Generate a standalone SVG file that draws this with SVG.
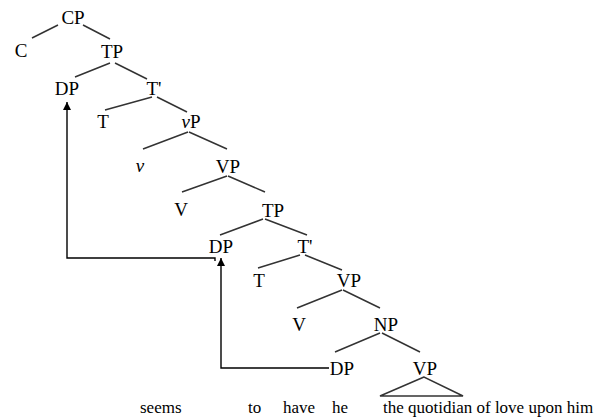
<svg xmlns="http://www.w3.org/2000/svg" width="606" height="418" viewBox="0 0 606 418">
<defs>
<style>
.lbl{font-family:"Liberation Serif","Times New Roman",serif;font-size:19px;fill:#000;text-anchor:middle}
.leaf{font-family:"Liberation Serif","Times New Roman",serif;font-size:17px;fill:#000}
.br{stroke:#333;stroke-width:1.5;fill:none}
.mv{stroke:#000;stroke-width:1.4;fill:none}
</style>
<marker id="ah" viewBox="0 0 10 10" refX="10" refY="5" markerWidth="9" markerHeight="8" markerUnits="userSpaceOnUse" orient="auto">
<path d="M0,0 L10,5 L0,10 Z" fill="#000"/>
</marker>
</defs>
<rect width="606" height="418" fill="#fff"/>
<g id="connectors">
<path class="br" d="M58,25 L32,38 M83,25 L110,39"/>
<path class="br" d="M110,63 L75,77 M115,63 L147,79"/>
<path class="br" d="M152,97 L105,110 M157,97 L187,112"/>
<path class="br" d="M188,132 L143,149 M189,132 L227,149"/>
<path class="br" d="M227,176 L182,192 M228,176 L265,192"/>
<path class="br" d="M263,219 L220,235 M265,219 L307,235"/>
<path class="br" d="M300,255 L258,268 M305,255 L342,270"/>
<path class="br" d="M342,290 L297,308 M343,290 L380,308"/>
<path class="br" d="M380,333 L335,352 M382,333 L420,352"/>
<path class="br" d="M424,377 L380,396 L463,396 Z"/>
<path class="mv" d="M215,261 L215,258 L67,258 L67,102" marker-end="url(#ah)"/>
<path class="mv" d="M329,368 L221,368 L221,258" marker-end="url(#ah)"/>
</g>
<g id="n-CP"><text class="lbl" x="73" y="24">CP</text></g>
<g id="n-C"><text class="lbl" x="21" y="57">C</text></g>
<g id="n-TP1"><text class="lbl" x="112" y="58">TP</text></g>
<g id="n-DP1"><text class="lbl" x="67" y="95">DP</text></g>
<g id="n-Tbar1"><text class="lbl" x="154" y="95">T'</text></g>
<g id="n-T1"><text class="lbl" x="103" y="128">T</text></g>
<g id="n-vP"><text class="lbl" x="191" y="128"><tspan font-style="italic">v</tspan>P</text></g>
<g id="n-v"><text class="lbl" x="140" y="172" font-style="italic">v</text></g>
<g id="n-VP1"><text class="lbl" x="228" y="173">VP</text></g>
<g id="n-V1"><text class="lbl" x="181" y="216">V</text></g>
<g id="n-TP2"><text class="lbl" x="273" y="217">TP</text></g>
<g id="n-DP2"><text class="lbl" x="221" y="253">DP</text></g>
<g id="n-Tbar2"><text class="lbl" x="305" y="253">T'</text></g>
<g id="n-T2"><text class="lbl" x="259" y="287">T</text></g>
<g id="n-VP2"><text class="lbl" x="349" y="287">VP</text></g>
<g id="n-V2"><text class="lbl" x="299" y="331">V</text></g>
<g id="n-NP"><text class="lbl" x="386" y="331">NP</text></g>
<g id="n-DP3"><text class="lbl" x="342" y="375">DP</text></g>
<g id="n-VP3"><text class="lbl" x="425" y="375">VP</text></g>
<g id="leaves">
<text class="leaf" x="140" y="413">seems</text>
<text class="leaf" x="248" y="413">to</text>
<text class="leaf" x="283" y="413">have</text>
<text class="leaf" x="332" y="413">he</text>
<text class="leaf" x="383" y="413">the quotidian of love upon him</text>
</g>
</svg>
